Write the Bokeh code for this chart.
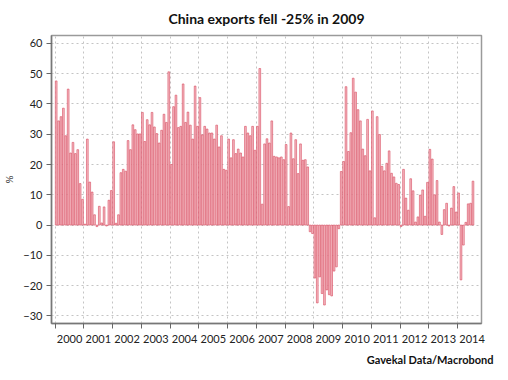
from bokeh.plotting import figure
from bokeh.models import FixedTicker, CustomJSTickFormatter, Title, Range1d, ColumnDataSource
from bokeh.embed import file_html
from bokeh.resources import INLINE

# Monthly y/y growth of China exports, %, Jan 2000 - Jul 2014
y2000 = [47.6, 34.4, 35.8, 38.6, 29.5, 44.9, 23.8, 27.3, 23.6, 24.9, 13.7, 8.5]
y2001 = [0.3, 28.4, 14.2, 10.9, 3.4, -0.5, 6.2, 0.7, 6.0, -0.3, 8.2, 11.4]
y2002 = [27.5, 0.6, 3.4, 17.3, 18.4, 17.8, 27.9, 24.9, 33.1, 31.5, 30.1, 30.1]
y2003 = [37.2, 27.6, 34.8, 33.1, 37.2, 32.4, 30.2, 27.1, 31.3, 36.6, 33.9, 50.6]
y2004 = [20.0, 39.1, 42.9, 32.2, 32.6, 46.6, 33.9, 37.3, 33.0, 28.4, 45.9, 32.6]
y2005 = [42.1, 29.8, 32.6, 31.7, 30.4, 30.4, 28.4, 33.0, 25.8, 29.5, 18.4, 18.1]
y2006 = [28.4, 22.2, 28.2, 23.6, 25.1, 23.8, 22.5, 32.6, 30.4, 29.5, 32.6, 24.7]
y2007 = [32.6, 51.7, 6.9, 26.8, 28.5, 27.1, 34.4, 22.7, 22.5, 22.2, 22.5, 21.6]
y2008 = [26.6, 6.1, 30.4, 21.9, 28.2, 17.0, 26.8, 21.4, 21.6, 19.2, -2.2, -2.8]
y2009 = [-17.5, -25.7, -17.1, -22.6, -26.4, -21.4, -23.0, -23.4, -15.2, -13.8, -1.2, 17.7]
y2010 = [21.0, 45.7, 24.3, 30.5, 48.5, 43.9, 38.1, 34.4, 25.1, 22.9, 34.9, 17.9]
y2011 = [37.7, 2.4, 35.8, 29.9, 19.4, 17.9, 20.4, 24.5, 17.1, 15.9, 13.8, 13.4]
y2012 = [-0.5, 18.4, 8.9, 4.9, 15.3, 11.3, 1.0, 2.7, 9.9, 11.6, 2.9, 14.1]
y2013 = [25.0, 21.8, 10.0, 14.7, 1.0, -3.1, 5.1, 7.2, -0.3, 5.6, 12.7, 4.3]
y2014 = [10.6, -18.1, -6.6, 0.9, 7.0, 7.2, 14.5]

years = list(range(2000, 2015))
yearly = [y2000, y2001, y2002, y2003, y2004, y2005, y2006, y2007,
          y2008, y2009, y2010, y2011, y2012, y2013, y2014]
y_ticks = [-30, -20, -10, 0, 10, 20, 30, 40, 50, 60]
title_text = "China exports fell -25% in 2009"
source_text = "Gavekal Data/Macrobond"

xs, vals = [], []
for yr, arr in zip(years, yearly):
    for m, v in enumerate(arr):
        xs.append(yr + (m + 0.4) / 12.0)
        vals.append(v)
src = ColumnDataSource(dict(x=xs, v=vals))

FONT = "Lato"
p = figure(width=498, height=371, output_backend="svg", toolbar_location=None,
           x_range=Range1d(1999.87, 2014.83), y_range=Range1d(-32.5, 62.6),
           min_border_left=41, min_border_right=17, min_border_top=35,
           min_border_bottom=20)

p.vbar(x="x", top="v", bottom=0, width=0.72 / 12, source=src,
       fill_color="#f4bcc4", line_color="#d9495e", line_width=0.6)

p.title = Title(text=title_text, align="center", vertical_align="top",
                text_font=FONT, text_font_size="14px", text_font_style="bold",
                text_color="#111111", offset=-15, standoff=13, text_line_height=1.0)
p.add_layout(Title(text=source_text, align="right", text_font=FONT,
                   text_font_size="11px", text_font_style="bold",
                   text_color="#111111", offset=-12, standoff=11), "below")

# x axis: ticks at year boundaries (minor), labels mid-year
xa = p.xaxis[0]
xa.ticker = FixedTicker(ticks=[y + 0.5 for y in years], minor_ticks=years + [2015])
xa.formatter = CustomJSTickFormatter(code="return Math.floor(tick).toString();")
xa.major_tick_out = 0
xa.major_tick_in = 0
xa.minor_tick_out = 5
xa.minor_tick_in = 0
xa.minor_tick_line_color = "#666666"
xa.axis_line_color = "#777777"
xa.axis_line_width = 1.5
xa.major_label_text_font = FONT
xa.major_label_text_font_size = "11px"
xa.major_label_text_color = "#222222"
xa.major_label_standoff = 6

ya = p.yaxis[0]
ya.ticker = FixedTicker(ticks=y_ticks)
ya.axis_label = "%"
ya.axis_label_text_font = FONT
ya.axis_label_text_font_size = "10px"
ya.axis_label_text_font_style = "normal"
ya.axis_label_text_color = "#333333"
ya.axis_label_standoff = 5
ya.major_tick_out = 5
ya.major_tick_in = 0
ya.minor_tick_out = 0
ya.minor_tick_in = 0
ya.major_tick_line_color = "#666666"
ya.axis_line_color = "#777777"
ya.axis_line_width = 1.5
ya.major_label_text_font = FONT
ya.major_label_text_font_size = "11px"
ya.major_label_text_color = "#222222"
ya.major_label_standoff = 4

p.xgrid.ticker = FixedTicker(ticks=years)
p.ygrid.ticker = FixedTicker(ticks=y_ticks)
for g in (p.xgrid, p.ygrid):
    g.grid_line_color = "#c4c4c4"
    g.grid_line_dash = "2 3"
    g.grid_line_width = 1

p.outline_line_color = "#9a9a9a"
p.outline_line_width = 1.5
p.background_fill_color = "white"
p.border_fill_color = "white"

open("out.html", "w").write(file_html(p, INLINE))
